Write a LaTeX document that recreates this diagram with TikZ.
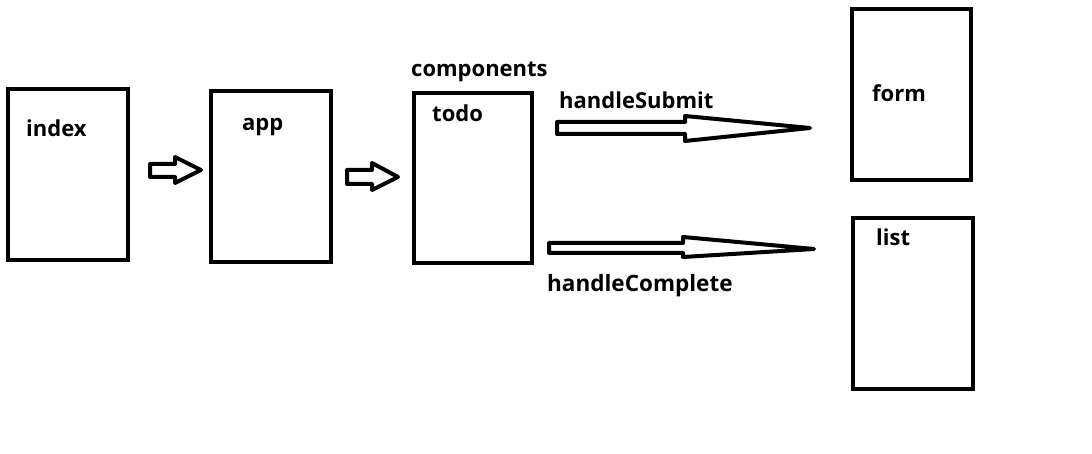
\documentclass[tikz,border=0pt]{standalone}
\usepackage{fontspec}
\setmainfont{Open Sans}
\begin{document}
\begin{tikzpicture}[x=1pt,y=-1pt,
  box/.style={draw=black,line width=4.5pt,fill=white,inner sep=0pt,outer sep=0pt},
  lbl/.style={anchor=base west,inner sep=0pt,font=\fontsize{22}{24}\selectfont\bfseries},
  blockarrow/.style={draw=black,line width=4pt,line join=round,fill=white}]
\useasboundingbox[fill=white] (0,0) rectangle (1092,454);
% boxes
\node[box,minimum width=120pt,minimum height=171pt] (index) at (68,174.5) {};
\node[box,minimum width=120pt,minimum height=171pt] (app) at (271,176.5) {};
\node[box,minimum width=118pt,minimum height=170pt] (todo) at (473,178) {};
\node[box,minimum width=119pt,minimum height=171pt] (form) at (911.5,94.5) {};
\node[box,minimum width=120pt,minimum height=171pt] (list) at (913,303.5) {};
% labels
\node[lbl] (tindex) at (26,137) {index};
\node[lbl] (tapp) at (242,131) {app};
\node[lbl] (tcomp) at (411,77) {components};
\node[lbl] (ttodo) at (432,122) {todo};
\node[lbl] (tsub) at (559,109) {handleSubmit};
\node[lbl] (tform) at (872,102) {form};
\node[lbl] (tlist) at (876,246) {list};
\node[lbl] (tcomplete) at (547,291) {\fontsize{22.5}{24}\selectfont handleComplete};
% small block arrows
\draw[blockarrow] (150,164) -- (175,164) -- (175,157) -- (201,170) -- (175,183) -- (175,177) -- (150,177) -- cycle;
\draw[blockarrow] (347,170) -- (372,170) -- (372,163) -- (398,177) -- (372,190) -- (372,184) -- (347,184) -- cycle;
% long arrows
\draw[blockarrow] (557,122) -- (685,122) -- (685,116) -- (810,128) -- (685,141) -- (685,134) -- (557,134) -- cycle;
\draw[blockarrow] (549,243) -- (683,243) -- (683,237) -- (814,249) -- (683,257) -- (683,253) -- (549,253) -- cycle;
\end{tikzpicture}
\end{document}
